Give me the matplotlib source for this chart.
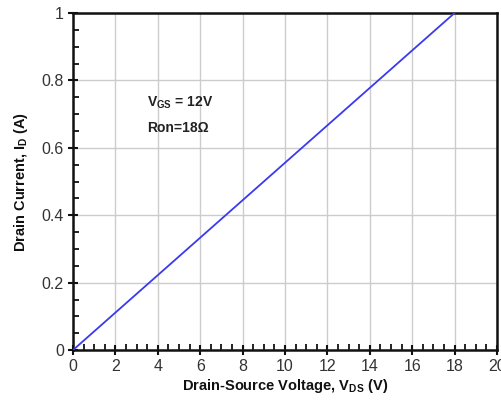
import matplotlib
matplotlib.use("Agg")
import matplotlib.pyplot as plt
from matplotlib.ticker import MultipleLocator

plt.rcParams['font.family'] = ['Liberation Sans', 'DejaVu Sans']
plt.rcParams['mathtext.fontset'] = 'custom'
plt.rcParams['mathtext.rm'] = 'Liberation Sans'
plt.rcParams['mathtext.bf'] = 'Liberation Sans:bold'
plt.rcParams['mathtext.it'] = 'Liberation Sans:italic'

# Linear on-resistance characteristic: I_D = V_DS / Ron
ron = 18.0
vds = [0.0, 18.0]
i_d = [v / ron for v in vds]

x_ticks = [0, 2, 4, 6, 8, 10, 12, 14, 16, 18, 20]
y_ticks = [0, 0.2, 0.4, 0.6, 0.8, 1.0]
y_tick_labels = ['0', '0.2', '0.4', '0.6', '0.8', '1']

fig = plt.figure(figsize=(5.02, 4.01), dpi=100)
ax = fig.add_axes([0.1454, 0.127, 0.8446, 0.8406])

ax.plot(vds, i_d, color='#3a3aee', lw=1.3, zorder=3)

ax.set_xlim(0, 20)
ax.set_ylim(0, 1)
ax.set_xticks(x_ticks)
ax.set_xticklabels([str(t) for t in x_ticks])
ax.set_yticks(y_ticks)
ax.set_yticklabels(y_tick_labels)
ax.xaxis.set_minor_locator(MultipleLocator(0.5))
ax.yaxis.set_minor_locator(MultipleLocator(0.05))

ax.grid(True, which='major', color='#cccccc', lw=1.0, zorder=0)
ax.set_axisbelow(True)

for s in ax.spines.values():
    s.set_linewidth(1.8)
    s.set_color('#111111')

ax.tick_params(which='major', direction='inout', length=7, width=1.5,
               labelsize=11.5, colors='#111111', pad=3)
ax.tick_params(which='minor', direction='in', length=4, width=1.3,
               colors='#111111')
ax.tick_params(axis='both', which='both', top=False, right=False)
ax.tick_params(axis='both', which='major', labelcolor='#333333')

ax.set_xlabel(r'Drain-Source Voltage, V$_{\mathbf{DS}}$ (V)', fontsize=10.5,
              fontweight='bold', labelpad=2, color='#111111')
ax.set_ylabel(r'Drain Current, I$_{\mathbf{D}}$ (A)', fontsize=10.5,
              fontweight='bold', labelpad=8, color='#111111')

ax.text(3.5, 0.733, r'V$_{\mathbf{GS}}$ = 12V', fontsize=10, fontweight='bold',
        va='center', ha='left', color='#222222')
ax.text(3.5, 0.66, 'Ron=18\u03a9', fontsize=10, fontweight='bold',
        va='center', ha='left', color='#222222')

fig.savefig('out.png', dpi=100)
